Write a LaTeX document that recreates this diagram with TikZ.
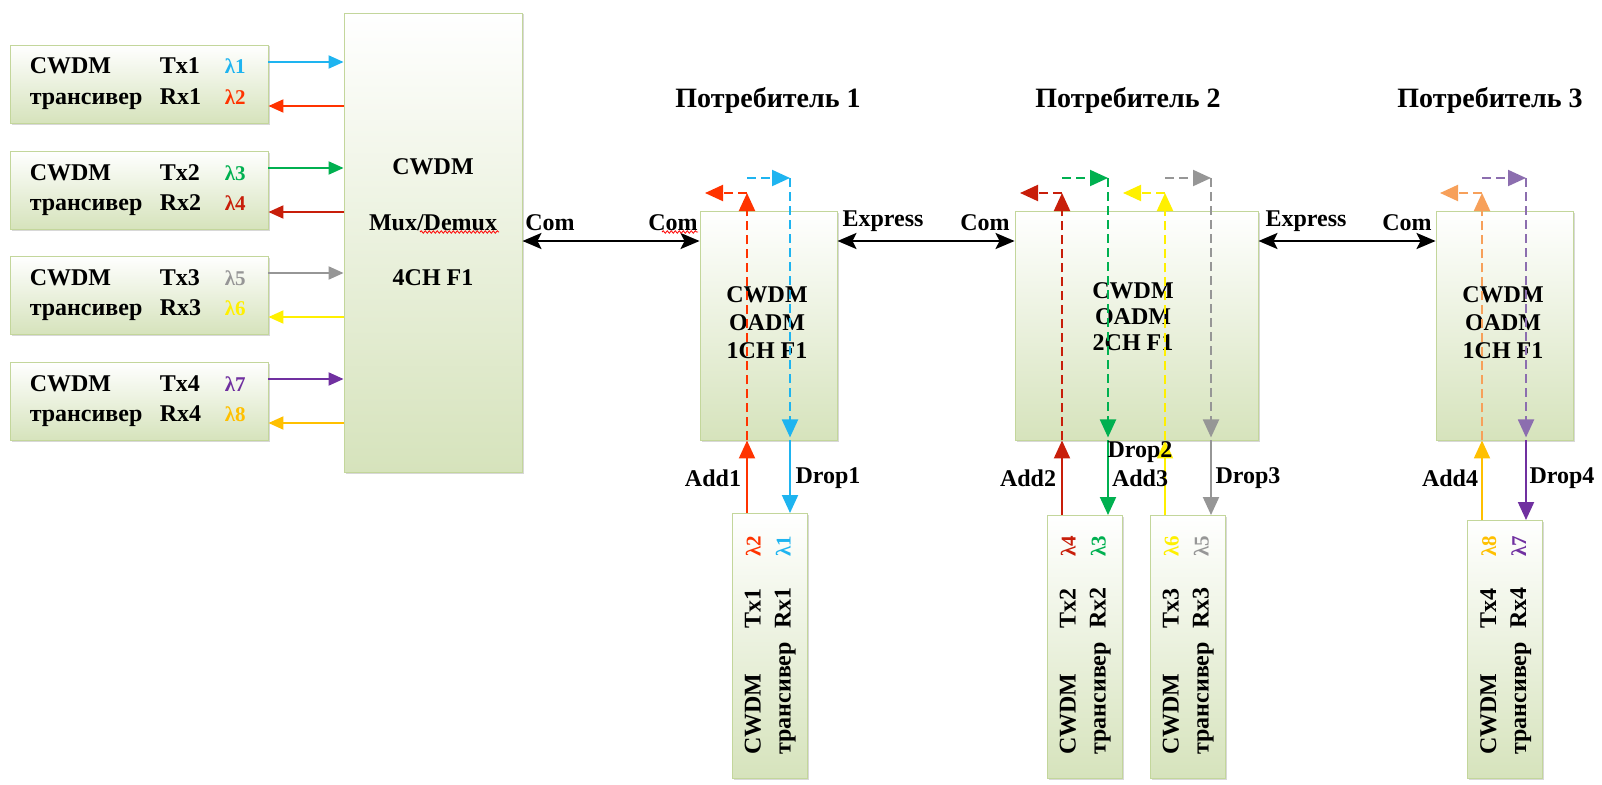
\documentclass[tikz,border=0pt]{standalone}
\usepackage{fontspec}
\setmainfont{Liberation Serif}
\usetikzlibrary{arrows.meta,shadows,calc,decorations.pathmorphing}
\definecolor{bgreen}{RGB}{214,227,188}
\definecolor{bborder}{RGB}{195,214,155}
\definecolor{lone}{RGB}{30,180,240}
\definecolor{ltwo}{RGB}{255,51,0}
\definecolor{lthree}{RGB}{0,176,80}
\definecolor{lfour}{RGB}{200,30,10}
\definecolor{lfive}{RGB}{150,150,150}
\definecolor{lsix}{RGB}{255,240,0}
\definecolor{lseven}{RGB}{112,48,160}
\definecolor{leight}{RGB}{255,192,0}
\definecolor{lorange}{RGB}{247,160,90}
\definecolor{lpurple}{RGB}{140,110,175}
\tikzset{
  gbox/.style={draw=bborder, line width=0.9pt, top color=white, bottom color=bgreen,
    drop shadow={shadow xshift=1.5pt, shadow yshift=-1.5pt, opacity=0.3, fill=black!50}},
  txt/.style={font=\bfseries\fontsize{24}{28}\selectfont, inner sep=0pt},
  ttl/.style={font=\bfseries\fontsize{28}{32}\selectfont, inner sep=0pt},
  lam/.style={font=\bfseries\fontsize{21}{24}\selectfont, inner sep=0pt},
  wl/.style={line width=2pt, -{Triangle[length=15pt,width=13pt]}},
  ol/.style={line width=2pt, -{Triangle[length=18pt,width=16pt]}},
  dsh/.style={dash pattern=on 9pt off 5pt},
  biarrow/.style={line width=2.5pt, {Stealth[length=19pt,width=16pt,inset=4pt]}-{Stealth[length=19pt,width=16pt,inset=4pt]}},
  squig/.style={red, line width=0.8pt, decorate, decoration={snake, amplitude=1.2pt, segment length=4pt}}
}
\newcommand\leftbox[7]{%
  \node[gbox, minimum width=258pt, minimum height=78pt] (#1) at (139,#2) {};
  \node[txt, anchor=base west] (#1c) at ($(#1.west)+(20,-10)$) {CWDM};
  \node[txt, anchor=base west] (#1t) at ($(#1.west)+(20,20)$) {трансивер};
  \node[txt, anchor=base west] (#1x) at ($(#1.west)+(150,-10)$) {Tx#3};
  \node[txt, anchor=base west] (#1r) at ($(#1.west)+(150,20)$) {Rx#3};
  \node[lam, anchor=base west, text=#5] (#1l) at ($(#1.west)+(215,-10)$) {λ#4};
  \node[lam, anchor=base west, text=#7] (#1m) at ($(#1.west)+(215,20)$) {λ#6};
  \draw[wl, #5] ($(#1.east)+(0,-22)$) -- ($(#1.east -| mux.west)+(0,-22)$);
  \draw[wl, #7] ($(#1.east -| mux.west)+(0,22)$) -- ($(#1.east)+(0,22)$);
}
\newcommand\botbox[8]{%
  \node[gbox, minimum width=75pt, minimum height={778-#3}, anchor=north] (#1) at (#2,#3) {};
  \node[txt, rotate=90, anchor=base west] (#1c) at ($(#1.south)+(-9,-24)$) {CWDM};
  \node[txt, rotate=90, anchor=base west] (#1t) at ($(#1.south)+(21,-24)$) {трансивер};
  \node[txt, rotate=90, anchor=base west] (#1x) at ($(#1.south)+(-9,-150)$) {Tx#4};
  \node[txt, rotate=90, anchor=base west] (#1r) at ($(#1.south)+(21,-150)$) {Rx#4};
  \node[lam, rotate=90, anchor=base west, text=#6] (#1l) at ($(#1.south)+(-9,-222)$) {λ#5};
  \node[lam, rotate=90, anchor=base west, text=#8] (#1m) at ($(#1.south)+(21,-222)$) {λ#7};
}
\newcommand\adddrop[9]{%
  \coordinate (#9a) at (#3,0);
  \coordinate (#9d) at (#4,0);
  \coordinate (#9l) at (#3-42,193);
  \draw[ol, #5] (#2.north -| #9a) -- (#1.south -| #9a);
  \draw[ol, dsh, #6] (#1.south -| #9a) -- (#9a |- #9l);
  \draw[ol, dsh, #6] (#9a |- #9l) -- (#9l);
  \draw[ol, dsh, #8] ($(#9a |- #9l)+(0,-15)$) -- ($(#9d |- #9l)+(0,-15)$);
  \draw[ol, dsh, #8] ($(#9d |- #9l)+(0,-15)$) -- ($(#1.south -| #9d)+(0,-3)$);
  \draw[ol, #7] (#1.south -| #9d) -- (#2.north -| #9d);
}
\begin{document}
\begin{tikzpicture}[x=1pt,y=-1pt]
\useasboundingbox[fill=white] (0,0) rectangle (1602,784);
% mux
\node[gbox, minimum width=178pt, minimum height=459pt] (mux) at (433,242.5) {};
\node[txt] (muxa) at (433,167) {CWDM};
\node[txt] (muxb) at (433,223) {Mux/Demux};
\node[txt] (muxc) at (433,278) {4CH F1};
\draw[squig] (420,232) -- (499,232);
% left transceivers
\leftbox{t1}{84}{1}{1}{lone}{2}{ltwo}
\leftbox{t2}{190}{2}{3}{lthree}{4}{lfour}
\leftbox{t3}{295}{3}{5}{lfive}{6}{lsix}
\leftbox{t4}{401}{4}{7}{lseven}{8}{leight}
% OADMs
\node[gbox, minimum width=137pt, minimum height=229pt] (o1) at (768.5,325.5) {};
\node[txt, align=center, font=\bfseries\fontsize{24}{28}\selectfont] (o1t) at (767,323) {CWDM\\OADM\\1CH F1};
\node[gbox, minimum width=243pt, minimum height=229pt] (o2) at (1136.5,325.5) {};
\node[txt, align=center, font=\bfseries\fontsize{24}{26}\selectfont] (o2t) at (1133,317) {CWDM\\OADM\\2CH F1};
\node[gbox, minimum width=137pt, minimum height=229pt] (o3) at (1504.5,325.5) {};
\node[txt, align=center, font=\bfseries\fontsize{24}{28}\selectfont] (o3t) at (1503,323) {CWDM\\OADM\\1CH F1};
% titles
\node[ttl] (p1) at (768,100) {Потребитель 1};
\node[ttl] (p2) at (1128,100) {Потребитель 2};
\node[ttl] (p3) at (1490,100) {Потребитель 3};
% trunk
\coordinate (cy) at (0,241);
\draw[biarrow] (mux.east |- cy) -- (o1.west |- cy);
\draw[biarrow] (o1.east |- cy) -- (o2.west |- cy);
\draw[biarrow] (o2.east |- cy) -- (o3.west |- cy);
\node[txt] (lc1) at (550,223) {Com};
\node[txt] (lc2) at (673,223) {Com};
\draw[squig] (662,232) -- (698,232);
\node[txt] (le1) at (883,221) {Express};
\node[txt] (lc3) at (985,223) {Com};
\node[txt] (le2) at (1306,221) {Express};
\node[txt] (lc4) at (1407,223) {Com};
% bottom transceivers
\botbox{b1}{769.5}{513}{1}{2}{ltwo}{1}{lone}
\botbox{b2}{1084.5}{515}{2}{4}{lfour}{3}{lthree}
\botbox{b3}{1187.5}{515}{3}{6}{lsix}{5}{lfive}
\botbox{b4}{1505}{520}{4}{8}{leight}{7}{lseven}
% add/drop
\adddrop{o1}{b1}{747}{790}{ltwo}{ltwo}{lone}{lone}{k1}
\adddrop{o2}{b2}{1062}{1108}{lfour}{lfour}{lthree}{lthree}{k2}
\adddrop{o2}{b3}{1165}{1211}{lsix}{lsix}{lfive}{lfive}{k3}
\adddrop{o3}{b4}{1482}{1526}{leight}{lorange}{lseven}{lpurple}{k4}
% labels
\node[txt] (la1) at (713,478) {Add1};
\node[txt] (ld1) at (828,478) {Drop1};
\node[txt] (la2) at (1028,478) {Add2};
\node[txt] (ld2) at (1140,452) {Drop2};
\node[txt] (la3) at (1140,478) {Add3};
\node[txt] (ld3) at (1248,478) {Drop3};
\node[txt] (la4) at (1450,478) {Add4};
\node[txt] (ld4) at (1562,478) {Drop4};
\end{tikzpicture}
\end{document}
